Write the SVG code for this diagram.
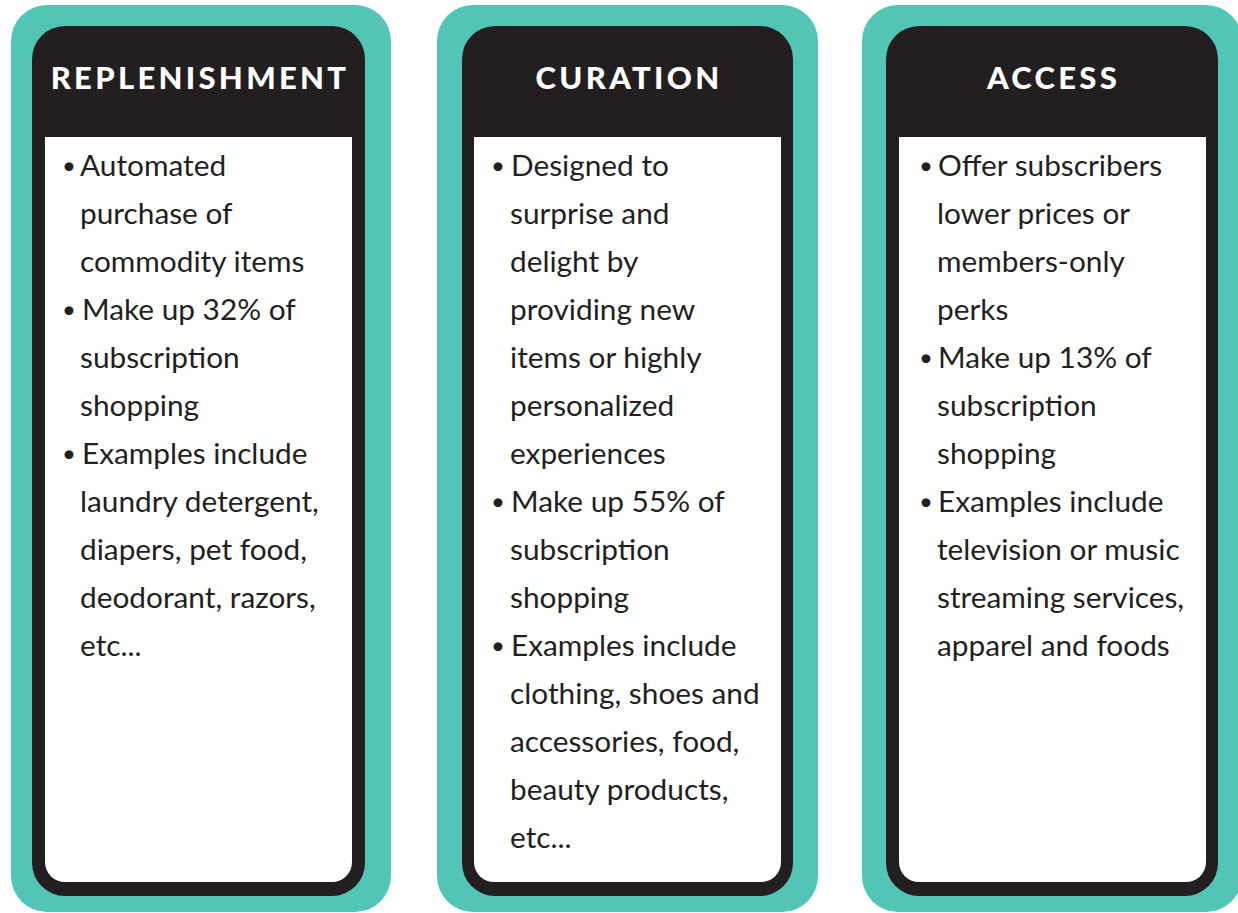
<svg xmlns="http://www.w3.org/2000/svg" width="1238" height="913" viewBox="0 0 1238 913">
<style>
.teal{fill:#52C5B6}
.dark{fill:#231F20}
.white{fill:#FFFFFF}
.title{font-family:Lato,"Liberation Sans",sans-serif;font-weight:900;font-size:31px;fill:#FFFFFF;text-anchor:middle;letter-spacing:3.3px}
.body{font-family:Lato,"Liberation Sans",sans-serif;font-size:29.8px;fill:#231F20}
.bul{font-size:24px}
</style>
<rect x="0" y="0" width="1238" height="913" fill="#FFFFFF"/>
<g id="replenishment">
<rect class="teal" x="11" y="5" width="380" height="907" rx="36"/>
<rect class="dark" x="32" y="26" width="333" height="870" rx="33"/>
<path class="white" d="M45 137 H352 V862 A20 20 0 0 1 332 882 H65 A20 20 0 0 1 45 862 Z"/>
<text class="title" x="200" y="89">REPLENISHMENT</text>
<text class="body">
<tspan class="bul" x="62" y="174">•</tspan><tspan x="80" y="176">Automated</tspan>
<tspan x="80" y="224">purchase of</tspan>
<tspan x="80" y="272">commodity items</tspan>
<tspan class="bul" x="62" y="318">•</tspan><tspan x="82" y="320">Make up 32% of</tspan>
<tspan x="80" y="368">subscription</tspan>
<tspan x="80" y="416">shopping</tspan>
<tspan class="bul" x="62" y="462">•</tspan><tspan x="82" y="464">Examples include</tspan>
<tspan x="80" y="512">laundry detergent,</tspan>
<tspan x="80" y="560">diapers, pet food,</tspan>
<tspan x="80" y="608">deodorant, razors,</tspan>
<tspan x="80" y="656">etc...</tspan>
</text>
</g>
<g id="curation">
<rect class="teal" x="437" y="5" width="381" height="907" rx="36"/>
<rect class="dark" x="462" y="26" width="331" height="870" rx="33"/>
<path class="white" d="M474 137 H781 V862 A20 20 0 0 1 761 882 H494 A20 20 0 0 1 474 862 Z"/>
<text class="title" x="629" y="89">CURATION</text>
<text class="body">
<tspan class="bul" x="491" y="174">•</tspan><tspan x="511" y="176">Designed to</tspan>
<tspan x="510" y="224">surprise and</tspan>
<tspan x="510" y="272">delight by</tspan>
<tspan x="510" y="320">providing new</tspan>
<tspan x="510" y="368">items or highly</tspan>
<tspan x="510" y="416">personalized</tspan>
<tspan x="510" y="464">experiences</tspan>
<tspan class="bul" x="491" y="510">•</tspan><tspan x="511" y="512">Make up 55% of</tspan>
<tspan x="510" y="560">subscription</tspan>
<tspan x="510" y="608">shopping</tspan>
<tspan class="bul" x="491" y="654">•</tspan><tspan x="511" y="656">Examples include</tspan>
<tspan x="510" y="704">clothing, shoes and</tspan>
<tspan x="510" y="752">accessories, food,</tspan>
<tspan x="510" y="800">beauty products,</tspan>
<tspan x="510" y="848">etc...</tspan>
</text>
</g>
<g id="access">
<rect class="teal" x="862" y="5" width="380" height="907" rx="36"/>
<rect class="dark" x="886" y="26" width="332" height="870" rx="33"/>
<path class="white" d="M899 137 H1206 V862 A20 20 0 0 1 1186 882 H919 A20 20 0 0 1 899 862 Z"/>
<text class="title" x="1053.5" y="89">ACCESS</text>
<text class="body">
<tspan class="bul" x="919" y="174">•</tspan><tspan x="938" y="176">Offer subscribers</tspan>
<tspan x="937" y="224">lower prices or</tspan>
<tspan x="937" y="272">members-only</tspan>
<tspan x="937" y="320">perks</tspan>
<tspan class="bul" x="919" y="366">•</tspan><tspan x="938" y="368">Make up 13% of</tspan>
<tspan x="937" y="416">subscription</tspan>
<tspan x="937" y="464">shopping</tspan>
<tspan class="bul" x="919" y="510">•</tspan><tspan x="938" y="512">Examples include</tspan>
<tspan x="937" y="560">television or music</tspan>
<tspan x="937" y="608">streaming services,</tspan>
<tspan x="937" y="656">apparel and foods</tspan>
</text>
</g>
<g id="connectors"></g>
</svg>
